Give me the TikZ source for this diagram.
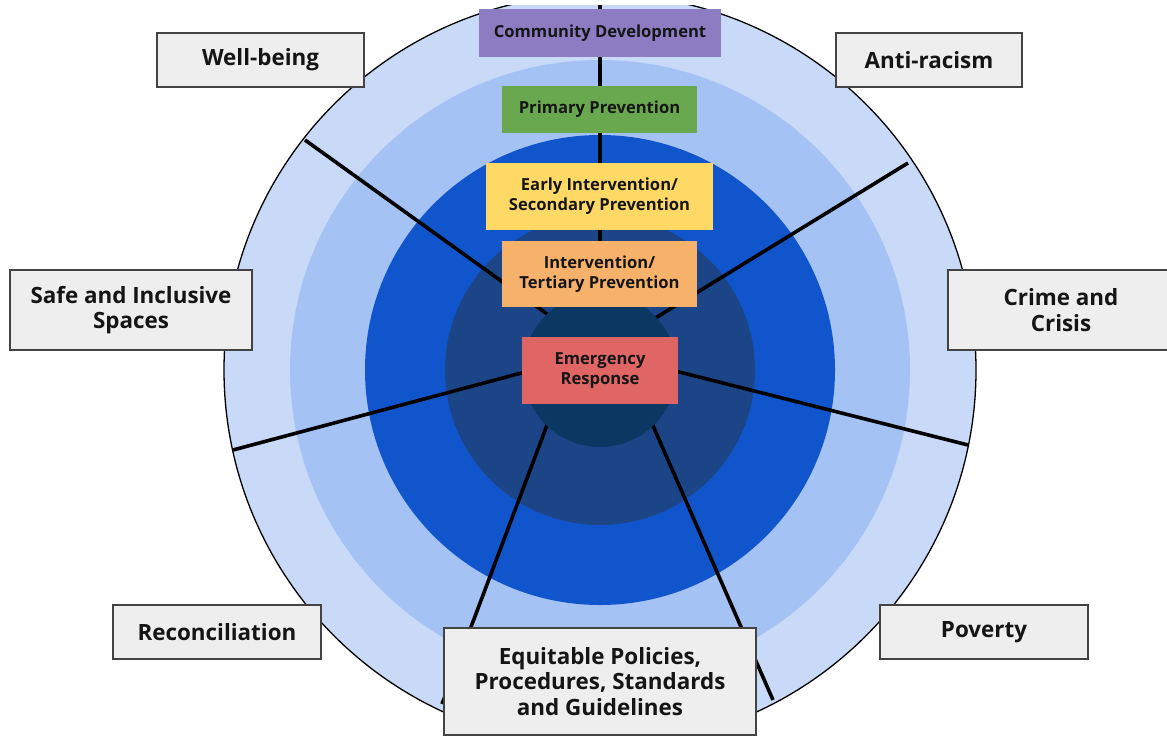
\documentclass[tikz,border=0pt]{standalone}
\usepackage{fontspec}
\setmainfont{Open Sans}
\definecolor{ringA}{HTML}{C9DAF8}
\definecolor{ringB}{HTML}{A4C2F4}
\definecolor{ringC}{HTML}{1155CC}
\definecolor{ringD}{HTML}{1C4587}
\definecolor{ringE}{HTML}{0B3763}
\definecolor{cdfill}{HTML}{8E7CC3}
\definecolor{ppfill}{HTML}{6AA84F}
\definecolor{eifill}{HTML}{FFD966}
\definecolor{itfill}{HTML}{F6B26B}
\definecolor{erfill}{HTML}{E06666}
\definecolor{lblfill}{HTML}{EEEEEE}
\definecolor{lbldraw}{HTML}{434343}
\definecolor{txt}{HTML}{151515}
\tikzset{
  levelbox/.style={rectangle, inner sep=0pt, align=center, text=txt,
    font=\bfseries\fontsize{16.6}{20}\selectfont},
  themebox/.style={rectangle, inner sep=0pt, align=center, text=txt,
    fill=lblfill, draw=lbldraw, line width=1.4pt,
    font=\bfseries\fontsize{22.4}{25.5}\selectfont},
  spoke/.style={line width=3.6pt, black}
}
\begin{document}
\begin{tikzpicture}[x=1pt,y=-1pt]
\useasboundingbox (0,0) rectangle (1167,736);
\clip (0,0) rectangle (1167,736);
\fill[white] (0,0) rectangle (1167,736);
\begin{scope}
\clip (0,5) rectangle (1167,736);
\coordinate (c) at (600,370);
\fill[ringA, draw=black, line width=1.3pt] (c) circle[radius=376];
\fill[ringB] (c) circle[radius=310];
\fill[ringC] (c) circle[radius=235];
\fill[ringD] (c) circle[radius=155];
% spokes
\coordinate (hub) at (600,352);
\coordinate (s1) at (600,0);
\coordinate (s2) at (305,140);
\coordinate (s3) at (908,163);
\coordinate (s4) at (233,450);
\coordinate (s5) at (968,445);
\coordinate (s6) at (442,704);
\coordinate (s6i) at (564,380);
\coordinate (s7) at (773,700);
\coordinate (s7i) at (633,380);
\draw[spoke] (hub) -- (s1);
\draw[spoke] (hub) -- (s2);
\draw[spoke] (hub) -- (s3);
\draw[spoke] (hub) -- (s4);
\draw[spoke] (hub) -- (s5);
\draw[spoke] (s6i) -- (s6);
\draw[spoke] (s7i) -- (s7);
\fill[ringE] (c) circle[radius=77];
\end{scope}
% level boxes
\node[levelbox, fill=cdfill, minimum width=242, minimum height=48] (cd) at (600,33) {Community Development};
\node[levelbox, fill=ppfill, minimum width=195, minimum height=47] (pp) at (599.5,109.5) {Primary Prevention};
\node[levelbox, fill=eifill, minimum width=227, minimum height=67] (ei) at (599.5,196.5) {Early Intervention/\\Secondary Prevention};
\node[levelbox, fill=itfill, minimum width=195, minimum height=66] (it) at (599.5,274) {Intervention/\\Tertiary Prevention};
\node[levelbox, fill=erfill, minimum width=156, minimum height=67] (er) at (600,370.5) {Emergency\\Response};
% theme boxes
\node[themebox, minimum width=207, minimum height=54] (wb) at (260.5,60) {Well-being};
\node[themebox, minimum width=186, minimum height=54] (ar) at (929,60) {Anti-racism};
\node[themebox, minimum width=242, minimum height=80] (sis) at (131,310) {Safe and Inclusive\\Spaces};
\node[themebox, minimum width=226, minimum height=80] (cc) at (1061,310) {Crime and\\Crisis};
\node[themebox, minimum width=208, minimum height=54] (rc) at (217,632) {Reconciliation};
\node[themebox, minimum width=208, minimum height=54] (pv) at (984,632) {Poverty};
\node[themebox, minimum width=312, minimum height=107] (ep) at (600,681.5) {Equitable Policies,\\Procedures, Standards\\and Guidelines};
\end{tikzpicture}
\end{document}
